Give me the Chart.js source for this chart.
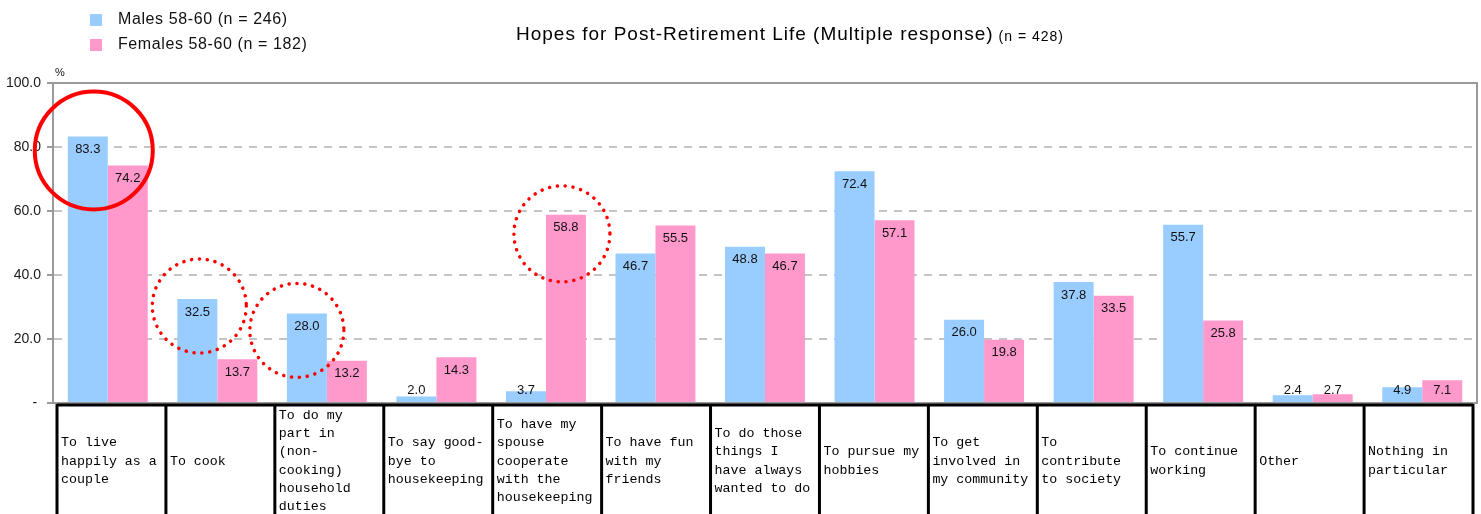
<!DOCTYPE html>
<html>
<head>
<meta charset="utf-8">
<script src="https://cdn.jsdelivr.net/npm/chart.js@4/dist/chart.umd.min.js"></script>
<style>
  html, body { margin: 0; padding: 0; background: #fff; }
  #wrap { width: 1481px; height: 514px; }
</style>
</head>
<body>
<div id="wrap"><canvas id="c" width="1481" height="514"></canvas></div>
<script>
// categories (one line per array entry, as in the table under the chart)
var categories = [
  ["To live", "happily as a", "couple"],
  ["To cook"],
  ["To do my", "part in", "(non-", "cooking)", "household", "duties"],
  ["To say good-", "bye to", "housekeeping"],
  ["To have my", "spouse", "cooperate", "with the", "housekeeping"],
  ["To have fun", "with my", "friends"],
  ["To do those", "things I", "have always", "wanted to do"],
  ["To pursue my", "hobbies"],
  ["To get", "involved in", "my community"],
  ["To", "contribute", "to society"],
  ["To continue", "working"],
  ["Other"],
  ["Nothing in", "particular"]
];
var males   = [83.3, 32.5, 28.0, 2.0, 3.7, 46.7, 48.8, 72.4, 26.0, 37.8, 55.7, 2.4, 4.9];
var females = [74.2, 13.7, 13.2, 14.3, 58.8, 55.5, 46.7, 57.1, 19.8, 33.5, 25.8, 2.7, 7.1];
var seriesNames = ["Males 58-60 (n = 246)", "Females 58-60 (n = 182)"];
var yTicks = [0, 20, 40, 60, 80, 100];

var titleMain = "Hopes for Post-Retirement Life (Multiple response)";
var titleSub = " (n = 428)";

var BLUE = "#99ccff", PINK = "#ff99cc";
var SANS = '"Liberation Sans", Arial, sans-serif';

// red rings drawn over some bars: which bar, offset of ring centre, radius
var rings = [
  {ds: 0, i: 0, dx: 6,   dy: 14, r: 59, dotted: false},
  {ds: 0, i: 1, dx: 2,   dy: 7,  r: 47, dotted: true},
  {ds: 0, i: 2, dx: -10, dy: 17, r: 47, dotted: true},
  {ds: 1, i: 4, dx: -4,  dy: 19, r: 48, dotted: true}
];

var extras = {
  id: 'extras',
  afterDatasetsDraw: function(chart) {
    var ctx = chart.ctx, area = chart.chartArea;
    ctx.save();
    ctx.font = '13px ' + SANS;
    ctx.fillStyle = '#111';
    ctx.textAlign = 'center';
    ctx.textBaseline = 'middle';
    chart.data.datasets.forEach(function(ds, d) {
      chart.getDatasetMeta(d).data.forEach(function(bar, i) {
        var y = Math.min(bar.y + 13, area.bottom - 13);
        ctx.fillText(ds.data[i].toFixed(1), bar.x, y);
      });
    });

    // frame top and right
    ctx.strokeStyle = '#9a9a9a';
    ctx.lineWidth = 2;
    ctx.beginPath();
    ctx.moveTo(area.left, area.top);
    ctx.lineTo(area.right, area.top);
    ctx.lineTo(area.right, area.bottom);
    ctx.stroke();

    // rings
    rings.forEach(function(r) {
      var bar = chart.getDatasetMeta(r.ds).data[r.i];
      ctx.beginPath();
      ctx.arc(bar.x + r.dx, bar.y + r.dy, r.r, 0, Math.PI * 2);
      ctx.strokeStyle = '#ff0000';
      if (r.dotted) {
        ctx.lineWidth = 3.5;
        ctx.lineCap = 'round';
        ctx.setLineDash([0.1, 7.8]);
      } else {
        ctx.lineWidth = 4;
        ctx.setLineDash([]);
      }
      ctx.stroke();
    });
    ctx.setLineDash([]);
    ctx.restore();
  },
  afterDraw: function(chart) {
    var ctx = chart.ctx, area = chart.chartArea;
    ctx.save();

    // title
    ctx.textBaseline = 'middle';
    ctx.fillStyle = '#000';
    ctx.letterSpacing = '1px';
    ctx.font = '19px ' + SANS;
    var w1 = ctx.measureText(titleMain).width;
    ctx.font = '14px ' + SANS;
    var w2 = ctx.measureText(titleSub).width;
    var tx = 790 - (w1 + w2) / 2;
    ctx.textAlign = 'left';
    ctx.font = '19px ' + SANS;
    ctx.fillText(titleMain, tx, 35);
    ctx.font = '14px ' + SANS;
    ctx.fillText(titleSub, tx + w1, 37);

    // legend
    ctx.letterSpacing = '0.6px';
    ctx.font = '16px ' + SANS;
    [BLUE, PINK].forEach(function(col, k) {
      var y = 20 + k * 25;
      ctx.fillStyle = col;
      ctx.fillRect(90, y - 6, 12, 12);
      ctx.fillStyle = '#111';
      ctx.fillText(seriesNames[k], 118, y);
    });
    ctx.letterSpacing = '0px';

    // unit
    ctx.font = '11px ' + SANS;
    ctx.fillText('%', area.left + 2, 73);

    // category table
    var n = categories.length;
    var left = area.left + 4, right = area.right - 4;
    var cw = (right - left) / n;
    ctx.strokeStyle = '#000';
    ctx.lineWidth = 3;
    ctx.beginPath();
    ctx.moveTo(left, area.bottom + 2);
    ctx.lineTo(right, area.bottom + 2);
    ctx.stroke();
    for (var i = 0; i <= n; i++) {
      var x = left + i * cw;
      ctx.beginPath();
      ctx.moveTo(x, area.bottom + 1);
      ctx.lineTo(x, chart.height);
      ctx.stroke();
    }
    ctx.font = '13.3px "Liberation Mono", monospace';
    ctx.fillStyle = '#000';
    var lh = 18.2, cy = 461;
    categories.forEach(function(lines, i) {
      var y0 = cy - (lines.length - 1) * lh / 2;
      lines.forEach(function(t, j) {
        ctx.fillText(t, left + i * cw + 4, y0 + j * lh);
      });
    });
    ctx.restore();
  }
};

new Chart(document.getElementById('c'), {
  type: 'bar',
  data: {
    labels: categories,
    datasets: [
      {label: seriesNames[0], data: males, backgroundColor: BLUE},
      {label: seriesNames[1], data: females, backgroundColor: PINK}
    ]
  },
  options: {
    responsive: false,
    animation: false,
    events: [],
    layout: {padding: {top: 83, right: 4, left: 0, bottom: 0}},
    categoryPercentage: 0.73,
    barPercentage: 1.0,
    plugins: {legend: {display: false}, title: {display: false}, tooltip: {enabled: false}},
    scales: {
      x: {
        ticks: {display: false},
        grid: {display: false},
        border: {display: true, color: '#9a9a9a', width: 2},
        afterFit: function(s) { s.height = 111; }
      },
      y: {
        min: 0, max: 100,
        afterBuildTicks: function(s) { s.ticks = yTicks.map(function(v) { return {value: v}; }); },
        ticks: {
          padding: 6,
          color: '#1a1a1a',
          font: {family: SANS, size: 14},
          callback: function(v) { return v === 0 ? '- ' : v.toFixed(1); }
        },
        grid: {color: '#c4c4c4', lineWidth: 2, tickLength: 6, tickColor: '#9a9a9a', tickWidth: 2},
        border: {display: true, color: '#9a9a9a', width: 2, dash: [8, 7]},
        afterFit: function(s) { s.width = 53; }
      }
    }
  },
  plugins: [extras]
});
</script>
</body>
</html>
